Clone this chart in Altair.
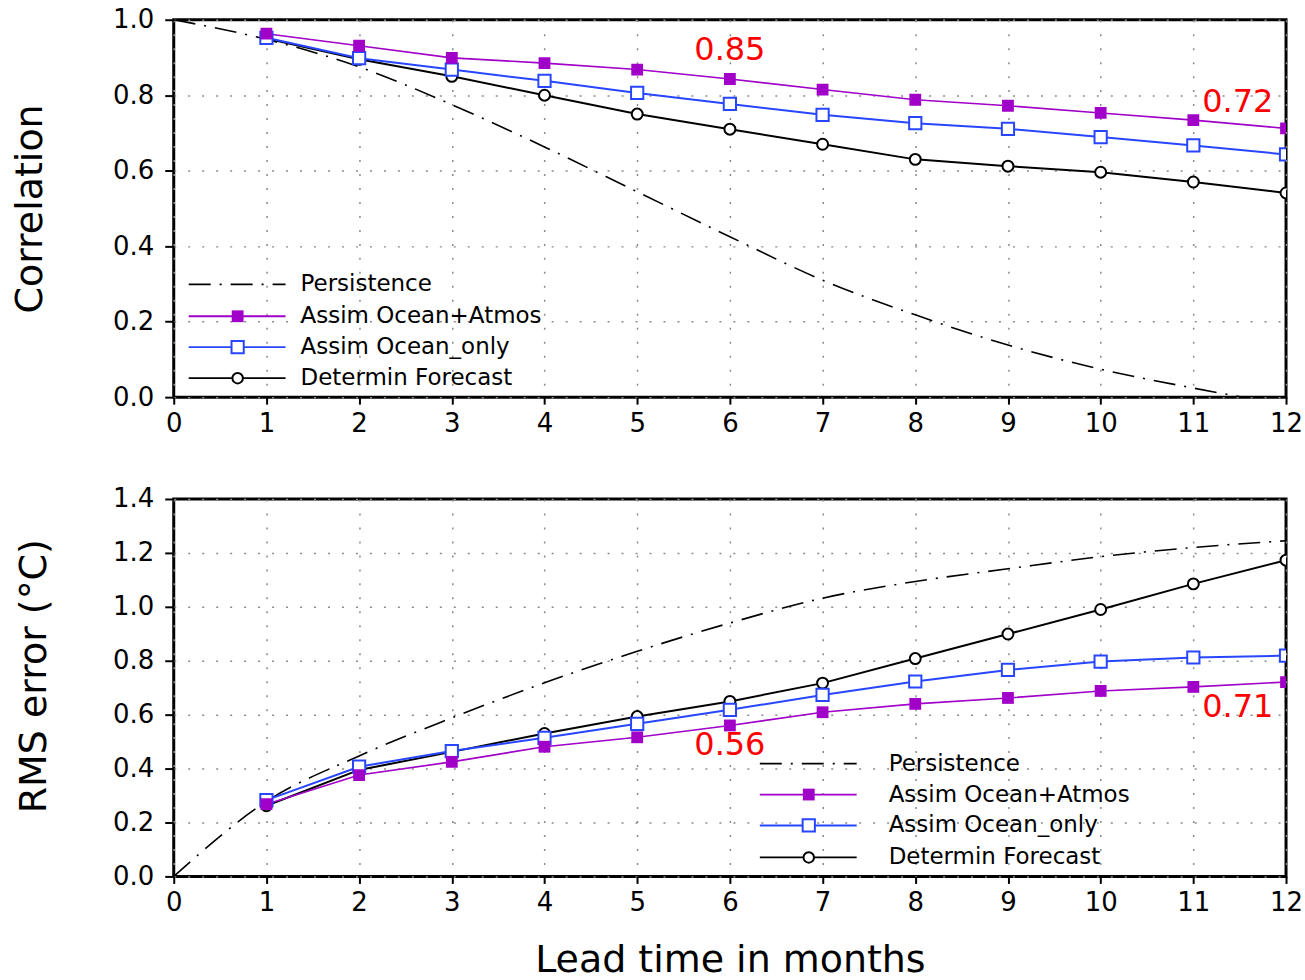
import altair as alt
import pandas as pd

# ---------------- data ----------------
lead_all = list(range(0, 13))
months = list(range(1, 13))

corr_persist = [1.0, 0.948, 0.875, 0.775, 0.663, 0.544, 0.425, 0.31, 0.218, 0.138, 0.074, 0.024, -0.02]
corr_both = [0.963, 0.931, 0.899, 0.885, 0.868, 0.843, 0.815, 0.788, 0.772, 0.753, 0.734, 0.712]
corr_ocean = [0.952, 0.898, 0.868, 0.838, 0.806, 0.777, 0.748, 0.726, 0.711, 0.689, 0.667, 0.643]
corr_det = [0.950, 0.895, 0.850, 0.800, 0.750, 0.710, 0.670, 0.630, 0.612, 0.596, 0.570, 0.541]

rms_persist = [0.0, 0.278, 0.447, 0.588, 0.718, 0.835, 0.940, 1.032, 1.094, 1.141, 1.186, 1.220, 1.245]
rms_both = [0.268, 0.376, 0.425, 0.481, 0.516, 0.560, 0.609, 0.640, 0.662, 0.688, 0.703, 0.721]
rms_ocean = [0.283, 0.407, 0.465, 0.514, 0.566, 0.618, 0.673, 0.723, 0.766, 0.797, 0.812, 0.819]
rms_det = [0.262, 0.395, 0.462, 0.530, 0.593, 0.649, 0.717, 0.808, 0.899, 0.990, 1.085, 1.173]

ann_top_text = ["0.85", "0.72"]
ann_top_x = [6.0, 11.48]
ann_top_y = [0.919, 0.781]
ann_bot_text = ["0.56", "0.71"]
ann_bot_x = [6.0, 11.48]
ann_bot_y = [0.487, 0.628]

legend_labels = ["Persistence", "Assim Ocean+Atmos", "Assim Ocean_only", "Determin Forecast"]

PURPLE = "#A000C8"
BLUE = "#2846FF"
BLACK = "#000000"
RED = "#FF0000"
FONT = "DejaVu Sans"
DASHDOT = [22, 9, 2, 9]

W, H = 1114, 378


def panel(persist, both, ocean, det, ymax, ytitle, title_x, title_y,
          ann_text, ann_x, ann_y, leg, show_xtitle):
    yvals = [round(0.2 * i, 1) for i in range(int(round(ymax / 0.2)) + 1)]
    xaxis_kw = dict(values=lead_all, format="d", labelFontSize=26, labelFont=FONT,
                    labelColor="black", labelFlush=False, tickSize=7, tickWidth=2,
                    tickColor="black", labelPadding=6, grid=True, gridColor="#8a8a8a",
                    gridDash=[2, 12], gridWidth=1.5, domain=False)
    if show_xtitle:
        xaxis = alt.Axis(title="Lead time in months", titleFontSize=38, titleFont=FONT,
                         titleFontWeight="normal", titleColor="black",
                         titleX=W / 2, titleY=95, titleBaseline="alphabetic",
                         titleAlign="center", **xaxis_kw)
    else:
        xaxis = alt.Axis(title=None, **xaxis_kw)
    yaxis = alt.Axis(values=yvals, format=".1f", labelFontSize=26, labelFont=FONT,
                     labelColor="black", tickSize=9, tickWidth=2, tickColor="black",
                     labelPadding=11, grid=True, gridColor="#8a8a8a", gridDash=[2, 12],
                     gridWidth=1.5, domain=False, title=ytitle, titleFontSize=38,
                     titleFont=FONT, titleFontWeight="normal", titleColor="black",
                     titleX=title_x, titleY=title_y, titleAngle=270,
                     titleAlign="center", titleBaseline="middle")
    X = alt.X("lead:Q", scale=alt.Scale(domain=[0, 12], nice=False), axis=xaxis)
    Y = alt.Y("value:Q", scale=alt.Scale(domain=[0, ymax], nice=False), axis=yaxis)

    df_p = pd.DataFrame({"lead": lead_all, "value": persist})
    df_b = pd.DataFrame({"lead": months, "value": both})
    df_o = pd.DataFrame({"lead": months, "value": ocean})
    df_d = pd.DataFrame({"lead": months, "value": det})

    layers = []
    layers.append(alt.Chart(df_p).mark_line(color=BLACK, strokeWidth=1.6, strokeDash=DASHDOT,
                                            interpolate="monotone", clip=True).encode(x=X, y=Y))
    layers.append(alt.Chart(df_d).mark_line(color=BLACK, strokeWidth=2, clip=True).encode(x=X, y=Y))
    layers.append(alt.Chart(df_o).mark_line(color=BLUE, strokeWidth=2, clip=True).encode(x=X, y=Y))
    layers.append(alt.Chart(df_b).mark_line(color=PURPLE, strokeWidth=1.6, clip=True).encode(x=X, y=Y))
    layers.append(alt.Chart(df_d).mark_point(shape="circle", size=120, filled=True, fill="white",
                                             stroke=BLACK, strokeWidth=2, opacity=1,
                                             clip=True).encode(x=X, y=Y))
    layers.append(alt.Chart(df_o).mark_point(shape="square", size=150, filled=True, fill="white",
                                             stroke=BLUE, strokeWidth=2, opacity=1,
                                             clip=True).encode(x=X, y=Y))
    layers.append(alt.Chart(df_b).mark_point(shape="square", size=140, filled=True, fill=PURPLE,
                                             strokeWidth=0, opacity=1,
                                             clip=True).encode(x=X, y=Y))
    df_a = pd.DataFrame({"lead": ann_x, "value": ann_y, "txt": ann_text})
    layers.append(alt.Chart(df_a).mark_text(fontSize=32, font=FONT, color=RED,
                                            baseline="middle", align="center").encode(
        x=X, y=Y, text="txt:N"))

    # legend drawn inside the plot area
    lx0, lx1, lm, lt, rows = leg
    styles = [
        dict(color=BLACK, dash=DASHDOT, shape=None),
        dict(color=PURPLE, dash=None, shape="filled_square"),
        dict(color=BLUE, dash=None, shape="open_square"),
        dict(color=BLACK, dash=None, shape="circle"),
    ]
    for lab, ry, st in zip(legend_labels, rows, styles):
        d1 = pd.DataFrame({"label": [lab]})
        rule_kw = dict(color=st["color"], strokeWidth=1.8)
        if st["dash"]:
            rule_kw["strokeDash"] = st["dash"]
        layers.append(alt.Chart(d1).mark_rule(**rule_kw).encode(
            x=alt.value(lx0), x2=alt.value(lx1), y=alt.value(ry)))
        if st["shape"] == "filled_square":
            layers.append(alt.Chart(d1).mark_point(shape="square", size=140, filled=True,
                                                   fill=PURPLE, strokeWidth=0, opacity=1).encode(
                x=alt.value(lm), y=alt.value(ry)))
        elif st["shape"] == "open_square":
            layers.append(alt.Chart(d1).mark_point(shape="square", size=150, filled=True,
                                                   fill="white", stroke=BLUE, strokeWidth=2,
                                                   opacity=1).encode(
                x=alt.value(lm), y=alt.value(ry)))
        elif st["shape"] == "circle":
            layers.append(alt.Chart(d1).mark_point(shape="circle", size=110, filled=True,
                                                   fill="white", stroke=BLACK, strokeWidth=2,
                                                   opacity=1).encode(
                x=alt.value(lm), y=alt.value(ry)))
        layers.append(alt.Chart(d1).mark_text(fontSize=23, font=FONT, color="black",
                                              align="left", baseline="middle").encode(
            x=alt.value(lt), y=alt.value(ry), text="label:N"))

    return alt.layer(*layers).properties(width=W, height=H)


top = panel(corr_persist, corr_both, corr_ocean, corr_det, 1.0, "Correlation", -143, 189,
            ann_top_text, ann_top_x, ann_top_y,
            (15, 112, 64, 127, [265, 297, 328, 359]), False)
bottom = panel(rms_persist, rms_both, rms_ocean, rms_det, 1.4, "RMS error (°C)", -139, 177,
               ann_bot_text, ann_bot_x, ann_bot_y,
               (587, 684, 636, 716, [265, 296, 327, 359]), True)

chart = alt.vconcat(top, bottom, spacing=46).properties(
    padding={"left": 10, "top": 4, "right": 0, "bottom": 0},
    background="white",
).configure_view(stroke="black", strokeWidth=3)

chart.save("out.html", embed_options={"renderer": "svg", "actions": False})
